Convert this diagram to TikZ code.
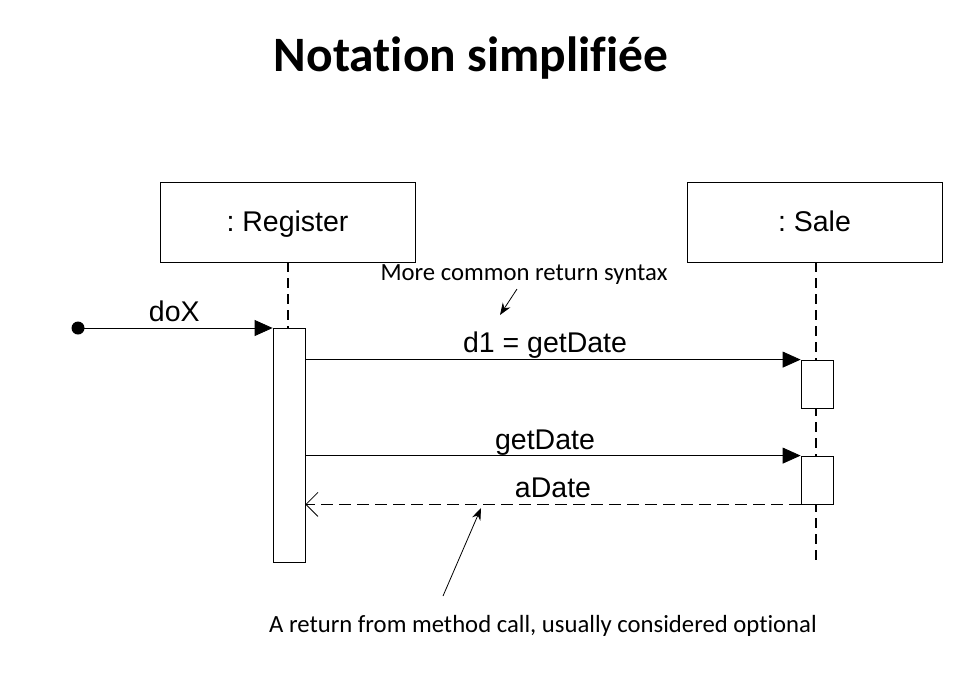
\documentclass[tikz,border=0pt]{standalone}
\usepackage{fontspec}
\setmainfont{Carlito}[Ligatures=NoCommon]
\newfontfamily\arialf{Liberation Sans}
\usetikzlibrary{arrows.meta}
\frenchspacing
\begin{document}
\begin{tikzpicture}[x=1pt,y=-1pt,
  obj/.style={draw,line width=0.8pt,minimum width=255pt,minimum height=80pt,font=\arialf\fontsize{28.5}{32}\selectfont,inner sep=0pt,text height=23pt,text depth=4pt},
  act/.style={draw,fill=white,line width=0.8pt,minimum width=32pt,inner sep=0pt},
  life/.style={line width=1.3pt,dash pattern=on 10pt off 6pt},
  msg/.style={line width=0.8pt,-{Triangle[length=18pt,width=16pt]}},
  ret/.style={line width=1.3pt,dash pattern=on 12pt off 6pt,-{Straight Barb[length=12pt,width=24pt,line width=0.8pt]}},
  lbl/.style={font=\arialf\fontsize{28.5}{32}\selectfont,inner sep=0pt,anchor=base,yshift=6.5pt},
  note/.style={font=\fontsize{24.7}{29}\selectfont,inner sep=0pt},
  pointer/.style={line width=0.8pt,-{Stealth[length=12pt,width=9pt]}}]
\useasboundingbox (0,0) rectangle (976,672);
\node[font=\bfseries\fontsize{49.5}{56}\selectfont] (title) at (471,58) {Notation simplifiée};
\node[obj] (reg) at (287.5,222) {: Register};
\node[obj] (sale) at (814.5,222) {: Sale};
\coordinate (regend) at (288,565);
\coordinate (saleend) at (816,565);
\draw[life] (reg.south -| regend) -- (regend);
\draw[life] (sale.south -| saleend) -- (saleend);
\node[act,minimum height=234pt] (ra) at (289,445) {};
\node[act,minimum height=48pt] (s1) at (817,384) {};
\node[act,minimum height=48pt] (s2) at (817,480) {};
\node[circle,fill,inner sep=0pt,minimum size=13pt] (start) at (78,328) {};
\draw[msg] (start.center) -- (ra.north west |- start.center) node[lbl,midway,xshift=-1pt] (doxl) {doX};
\draw[msg] (ra.east |- s1.north) -- (s1.north west) node[lbl,midway,xshift=-8pt,yshift=0.5pt] (d1l) {d1 = getDate};
\draw[msg] (ra.east |- s2.north) -- (s2.north west) node[lbl,midway,xshift=-8pt] (gdl) {getDate};
\draw[ret] (s2.south west) -- (ra.east |- s2.south) node[lbl,midway] (adl) {aDate};
\node[note] (n1) at (524,275) {More common return syntax};
\coordinate (n1tip) at (500,315);
\draw[pointer] (517,289) -- (n1tip);
\node[note] (n2) at (543,626) {A return from method call, usually considered optional};
\coordinate (n2tip) at (481,508);
\draw[pointer] (443,596) -- (n2tip);
\end{tikzpicture}
\end{document}
